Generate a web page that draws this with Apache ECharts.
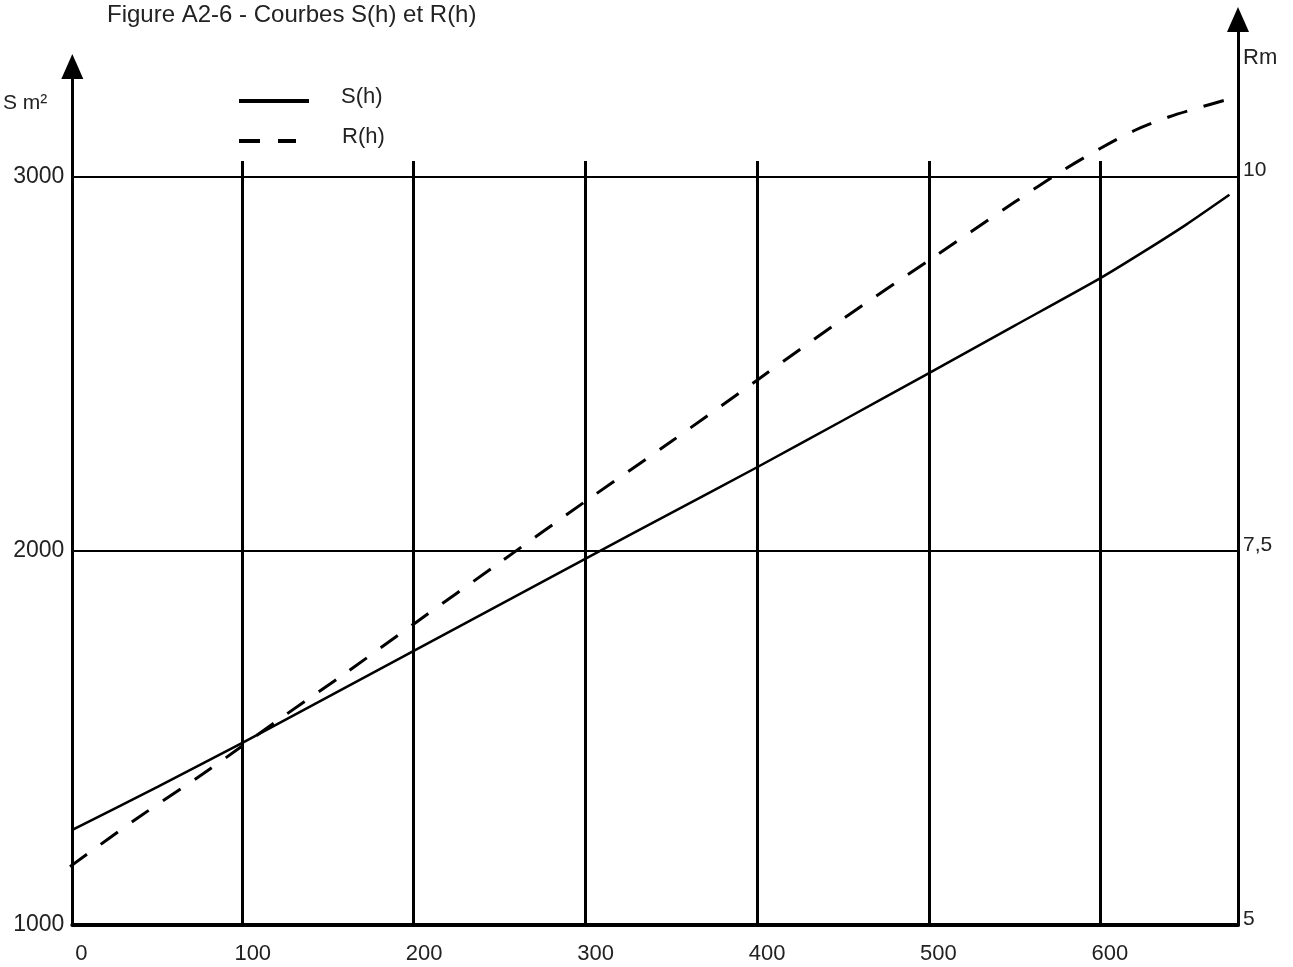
<!DOCTYPE html>
<html><head><meta charset="utf-8">
<script src="https://cdn.jsdelivr.net/npm/echarts@6/dist/echarts.min.js"></script>
<style>html,body{margin:0;padding:0;background:#fff}#c{width:1293px;height:967px}</style>
</head><body><div id="c"></div>
<script>
// ---- data ----
const TITLE = 'Figure A2-6 - Courbes S(h) et R(h)';
const X_TICKS = [0, 100, 200, 300, 400, 500, 600];
const S_TICKS = [1000, 2000, 3000];
const R_TICKS = [5, 7.5, 10];
const S_H    = [0, 50, 100, 150, 200, 250, 300, 350, 400, 450, 500, 550, 600, 625, 650, 675];
const S_VALS = [1254, 1370, 1489, 1612, 1735, 1858, 1981, 2103, 2225, 2350, 2476, 2603, 2730, 2800, 2873, 2952];
const R_H    = [0, 40, 80, 120, 160, 200, 250, 300, 350, 400, 450, 500, 550, 575, 600, 620, 640, 660, 672];
const R_VALS = [5.39, 5.72, 6.03, 6.36, 6.68, 7.01, 7.42, 7.83, 8.23, 8.64, 9.05, 9.44, 9.83, 10.02, 10.19, 10.31, 10.40, 10.47, 10.51];

const FONT = "'Liberation Sans', Arial, sans-serif";
const INK = '#000';
const TXT = '#222';
const DASH = [21, 17];

const chart = echarts.init(document.getElementById('c'), null, {renderer: 'canvas'});
const G = {left: 70, right: 55, bottom: 42};

const option = {
  animation: false,
  backgroundColor: '#fff',
  title: {
    text: TITLE, left: 107, top: 3, padding: 0,
    textStyle: {fontFamily: FONT, fontSize: 24, fontWeight: 'normal', color: TXT}
  },
  legend: [
    {
      data: [{name: 'S(h)', itemStyle: {opacity: 0}, lineStyle: {width: 4, color: INK, type: 'solid'}}],
      left: 237, top: 86, padding: 0, itemWidth: 70, itemHeight: 14, selectedMode: false,
      formatter: '{t|{name}}',
      textStyle: {fontFamily: FONT, fontSize: 22, color: TXT,
                  rich: {t: {fontFamily: FONT, fontSize: 22, color: TXT, padding: [0, 0, 8, 27]}}}
    },
    {
      data: [{name: 'R(h)', itemStyle: {opacity: 0}, lineStyle: {width: 4, color: INK, type: [21, 18]}}],
      left: 237, top: 126, padding: 0, itemWidth: 57, itemHeight: 14, selectedMode: false,
      formatter: '{t|{name}}',
      textStyle: {fontFamily: FONT, fontSize: 22, color: TXT,
                  rich: {t: {fontFamily: FONT, fontSize: 22, color: TXT, padding: [0, 0, 8, 41]}}}
    }
  ],
  grid: [
    {left: G.left, right: G.right, bottom: G.bottom, top: 66.5},
    {left: G.left, right: G.right, bottom: G.bottom, top: 19.5},
    {left: G.left, right: G.right, bottom: G.bottom, top: 161}
  ],
  xAxis: [
    {
      gridIndex: 0, type: 'value', min: 0, max: 680, interval: 100,
      axisLine: {show: true, onZero: false, lineStyle: {color: INK, width: 4}},
      axisTick: {show: false}, splitLine: {show: false},
      axisLabel: {
        color: TXT, fontFamily: FONT, fontSize: 22, margin: 18, showMaxLabel: false,
        padding: [0, 0, 0, 18],
        formatter: v => X_TICKS.includes(v) ? String(v) : ''
      }
    },
    {gridIndex: 1, type: 'value', min: 0, max: 680, show: false},
    {
      gridIndex: 2, type: 'value', min: 0, max: 680, interval: 100,
      axisLine: {show: false}, axisTick: {show: false}, axisLabel: {show: false},
      splitLine: {show: true, showMinLine: false, showMaxLine: false, lineStyle: {color: INK, width: 3}}
    }
  ],
  yAxis: [
    {
      gridIndex: 0, type: 'value', min: 1000, max: 3295, interval: 1000,
      axisLine: {show: true, onZero: false, lineStyle: {color: INK, width: 3},
                 symbol: ['none', 'triangle'], symbolSize: [22, 25]},
      axisTick: {show: false},
      splitLine: {show: true, showMinLine: false, showMaxLine: false, lineStyle: {color: INK, width: 2}},
      axisLabel: {
        color: TXT, fontFamily: FONT, fontSize: 23, margin: 8, showMaxLabel: false,
        formatter: v => S_TICKS.includes(v) ? String(v) : ''
      },
      name: 'S m²', nameLocation: 'end', nameGap: -37,
      nameTextStyle: {fontFamily: FONT, fontSize: 21, color: TXT, align: 'right', verticalAlign: 'middle', padding: [0, 25, 0, 0]}
    },
    {
      gridIndex: 1, type: 'value', position: 'right', min: 5, max: 11.05, interval: 2.5,
      axisLine: {show: true, onZero: false, lineStyle: {color: INK, width: 3},
                 symbol: ['none', 'triangle'], symbolSize: [22, 25]},
      axisTick: {show: false}, splitLine: {show: false},
      axisLabel: {
        color: TXT, fontFamily: FONT, fontSize: 21, margin: 5, showMaxLabel: false,
        formatter: v => R_TICKS.includes(v) ? '{t|' + String(v).replace('.', ',') + '}' : '',
        rich: {t: {fontFamily: FONT, fontSize: 21, color: TXT, padding: [0, 0, 12, 0]}}
      },
      name: 'Rm', nameLocation: 'end', nameGap: -38,
      nameTextStyle: {fontFamily: FONT, fontSize: 22, color: TXT, align: 'left', verticalAlign: 'middle', padding: [0, 0, 0, 5]}
    },
    {gridIndex: 2, type: 'value', min: 0, max: 1, show: false}
  ],
  series: [
    {
      name: 'S(h)', type: 'line', xAxisIndex: 0, yAxisIndex: 0,
      data: S_H.map((h, i) => [h, S_VALS[i]]),
      symbol: 'none', smooth: 0.2, color: INK,
      lineStyle: {color: INK, width: 2.5}, z: 5
    },
    {
      name: 'R(h)', type: 'line', xAxisIndex: 1, yAxisIndex: 1,
      data: R_H.map((h, i) => [h, R_VALS[i]]),
      symbol: 'none', smooth: 0.3, color: INK,
      lineStyle: {color: INK, width: 3, type: DASH}, z: 5
    }
  ]
};
chart.setOption(option);
</script></body></html>
